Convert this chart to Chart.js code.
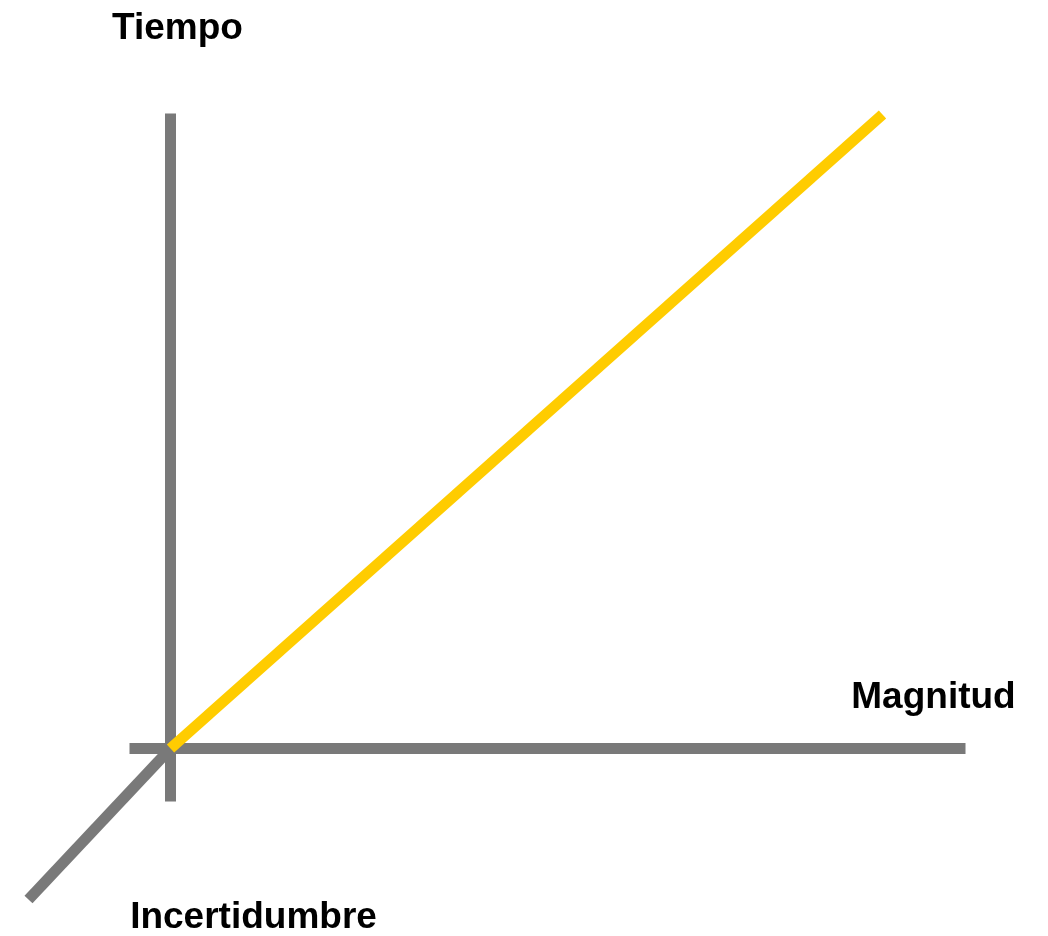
<!DOCTYPE html>
<html lang="es">
<head>
<meta charset="utf-8">
<title>Tiempo / Magnitud / Incertidumbre</title>
<script src="https://cdn.jsdelivr.net/npm/chart.js@4.4.1/dist/chart.umd.min.js"></script>
<style>
  html, body { margin: 0; padding: 0; background: #ffffff; }
  #diagram { display: block; }
</style>
</head>
<body>
<canvas id="diagram" width="1048" height="936"></canvas>
<script>
// axis segments, origin at (0, 0)
const tiempoAxis = [{ x: 0, y: -53 }, { x: 0, y: 635 }];
const magnitudAxis = [{ x: -41, y: 0 }, { x: 795, y: 0 }];
const incertidumbreAxis = [{ x: 0, y: 0 }, { x: -142, y: -151 }];
const trendLine = [{ x: 0, y: 0 }, { x: 712, y: 634 }];

// axis titles and where they sit
const axisLabels = ["Tiempo", "Magnitud", "Incertidumbre"];
const axisLabelPoints = [{ x: 7, y: 710 }, { x: 763, y: 41 }, { x: 83, y: -179 }];

const GRAY = "#797979";
const YELLOW = "#ffcc00";

// draws the axis titles through the chart scales
const axisLabelPlugin = {
  id: "axisLabels",
  afterDatasetsDraw(chart) {
    const ctx = chart.ctx;
    const xs = chart.scales.x;
    const ys = chart.scales.y;
    ctx.save();
    ctx.fillStyle = "#000000";
    ctx.font = "bold 37px 'Liberation Sans', Arial, sans-serif";
    ctx.textAlign = "center";
    ctx.textBaseline = "alphabetic";
    axisLabels.forEach((text, i) => {
      const p = axisLabelPoints[i];
      ctx.fillText(text, xs.getPixelForValue(p.x), ys.getPixelForValue(p.y));
    });
    ctx.restore();
  },
};

function segment(data, color) {
  return {
    data: data,
    showLine: true,
    borderColor: color,
    backgroundColor: color,
    borderWidth: 11,
    borderCapStyle: "butt",
    pointRadius: 0,
    pointHoverRadius: 0,
    fill: false,
  };
}

new Chart(document.getElementById("diagram"), {
  type: "scatter",
  data: {
    // first dataset is painted last, so the yellow line stays on top
    datasets: [
      segment(trendLine, YELLOW),
      segment(tiempoAxis, GRAY),
      segment(magnitudAxis, GRAY),
      segment(incertidumbreAxis, GRAY),
    ],
  },
  options: {
    responsive: false,
    animation: false,
    events: [],
    layout: { padding: 0 },
    plugins: {
      legend: { display: false },
      tooltip: { enabled: false },
      title: { display: false },
    },
    scales: {
      x: { type: "linear", display: false, min: -170.5, max: 877.5 },
      y: { type: "linear", display: false, min: -187.5, max: 748.5 },
    },
  },
  plugins: [axisLabelPlugin],
});
</script>
</body>
</html>
